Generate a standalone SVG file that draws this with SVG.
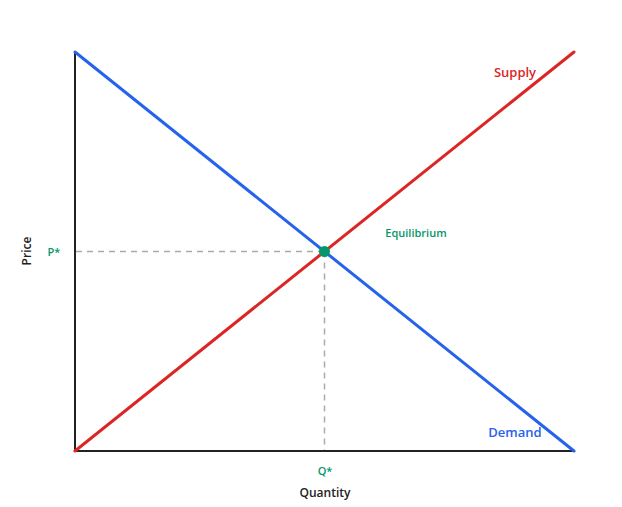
<svg xmlns="http://www.w3.org/2000/svg" width="622" height="507" viewBox="0 0 622 507">
<style>
text{font-family:"Open Sans","Noto Sans",sans-serif;font-weight:600}
.axis{stroke:#222;stroke-width:2;fill:none}
.guide{stroke:#aaa;stroke-width:1.5;stroke-dasharray:6,5;fill:none}
.curve{stroke-width:3;fill:none;stroke-linecap:round}
.g{fill:#059669}
</style>
<rect width="622" height="507" fill="#fff"/>
<g id="connectors">
<line class="guide" x1="76" y1="251.5" x2="324.5" y2="251.5"/>
<line class="guide" x1="324.5" y1="251.5" x2="324.5" y2="450"/>
<line class="axis" x1="75" y1="51" x2="75" y2="451"/>
<line class="axis" x1="74" y1="451" x2="574" y2="451"/>
<line class="curve" stroke="#2563eb" x1="75" y1="52" x2="574" y2="451"/>
<line class="curve" stroke="#dc2626" x1="75" y1="451" x2="574" y2="52"/>
</g>
<g id="equilibrium">
<circle cx="324.5" cy="251.5" r="5.5" fill="#059669"/>
<text class="g" x="416" y="237" font-size="11" text-anchor="middle">Equilibrium</text>
</g>
<g id="supply"><text x="515" y="77" font-size="13" fill="#dc2626" text-anchor="middle">Supply</text></g>
<g id="demand"><text x="515" y="437" font-size="13" fill="#2563eb" text-anchor="middle">Demand</text></g>
<g id="pstar"><text class="g" x="54" y="256" font-size="11" text-anchor="middle">P*</text></g>
<g id="qstar"><text class="g" x="325" y="475" font-size="11" text-anchor="middle">Q*</text></g>
<g id="xlabel"><text x="325" y="497" font-size="12" fill="#222" text-anchor="middle">Quantity</text></g>
<g id="ylabel"><text transform="translate(31,251) rotate(-90)" font-size="12" fill="#222" text-anchor="middle">Price</text></g>
</svg>
